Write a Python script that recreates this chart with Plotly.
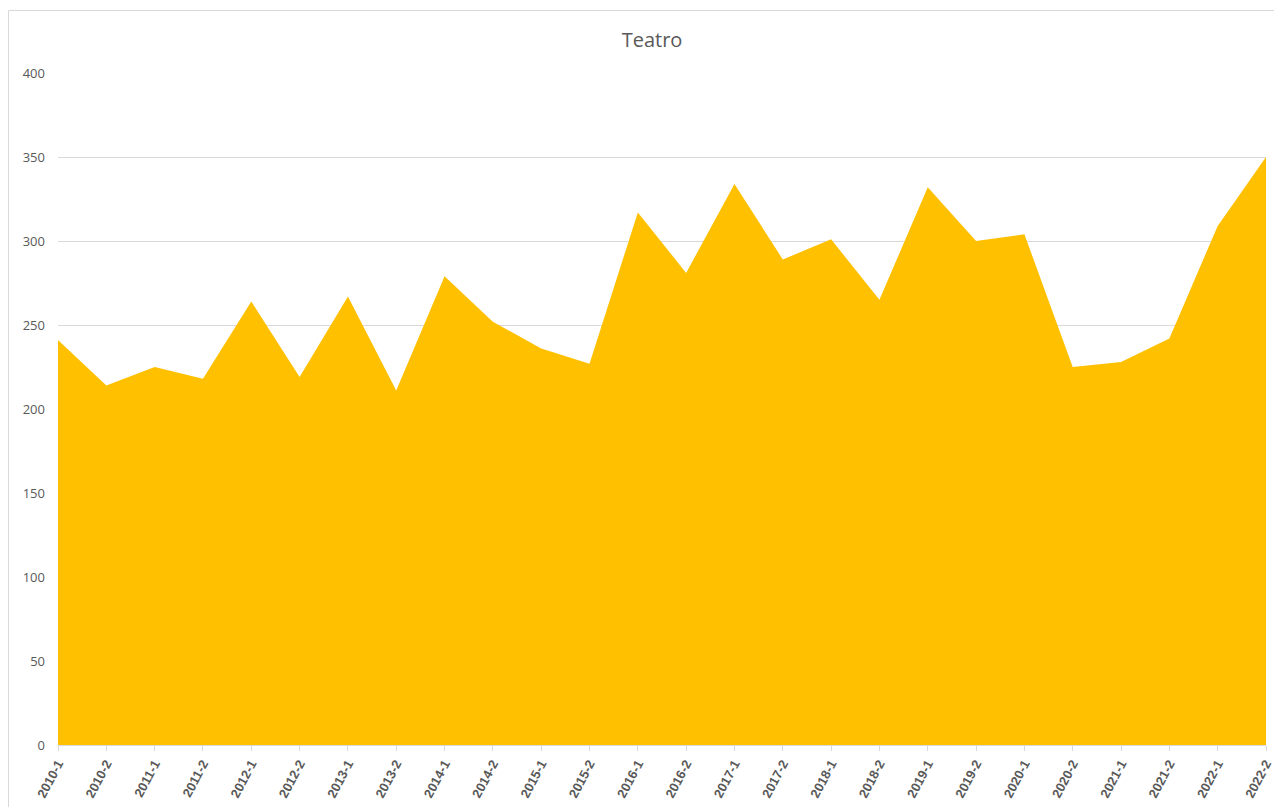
import plotly.graph_objects as go

categories = ["2010-1", "2010-2", "2011-1", "2011-2", "2012-1", "2012-2", "2013-1", "2013-2",
              "2014-1", "2014-2", "2015-1", "2015-2", "2016-1", "2016-2", "2017-1", "2017-2",
              "2018-1", "2018-2", "2019-1", "2019-2", "2020-1", "2020-2", "2021-1", "2021-2",
              "2022-1", "2022-2"]
values = [241, 214, 225, 218, 264, 219, 267, 211, 279, 252, 236, 227, 317, 281, 334, 289,
          301, 265, 332, 300, 304, 225, 228, 242, 309, 350]
y_ticks = [0, 50, 100, 150, 200, 250, 300, 350, 400]

W, H = 1274, 799
L, T, R, B = 50, 65, 16, 62
PW, PH = W - L - R, H - T - B

fig = go.Figure()
fig.add_trace(go.Scatter(
    x=list(range(len(categories))), y=values, mode="lines", fill="tozeroy",
    fillcolor="#FFC000", line=dict(width=0, color="#FFC000"), hoverinfo="skip",
    showlegend=False,
))

fig.update_layout(
    width=W, height=H,
    margin=dict(l=L, r=R, t=T, b=B),
    paper_bgcolor="white", plot_bgcolor="white",
    title=dict(text="Teatro", x=644 / W, xanchor="center", y=1 - 32 / H, yanchor="middle",
               font=dict(family="Open Sans, Liberation Sans, sans-serif", size=20, color="#595959")),
    font=dict(family="Open Sans, Liberation Sans, sans-serif", color="#595959"),
    xaxis=dict(
        range=[0, len(categories) - 1], tickmode="array",
        tickvals=list(range(len(categories))), ticktext=categories,
        tickangle=-62, tickfont=dict(size=13, color="#595959", family="Liberation Sans, sans-serif", weight="bold"),
        showgrid=False, zeroline=False, showline=True, linecolor="#D9D9D9", linewidth=1,
        ticks="outside", ticklen=5, tickcolor="#D9D9D9", automargin=False,
    ),
    yaxis=dict(
        range=[0, 400], tickmode="array", tickvals=y_ticks,
        tickfont=dict(size=13, color="#595959", family="Open Sans, sans-serif"),
        showgrid=True, gridcolor="#D9D9D9", gridwidth=1, zeroline=False, showline=False,
        ticks="", ticklabelstandoff=12, automargin=False,
    ),
    shapes=[dict(type="rect", xref="paper", yref="paper",
                 x0=(0.5 - L) / PW, x1=(1270 - L) / PW, y0=-0.2, y1=(H - B - 2.5) / PH,
                 line=dict(color="#D9D9D9", width=1), fillcolor="rgba(0,0,0,0)", layer="below")],
)

fig.write_html("out.html")
